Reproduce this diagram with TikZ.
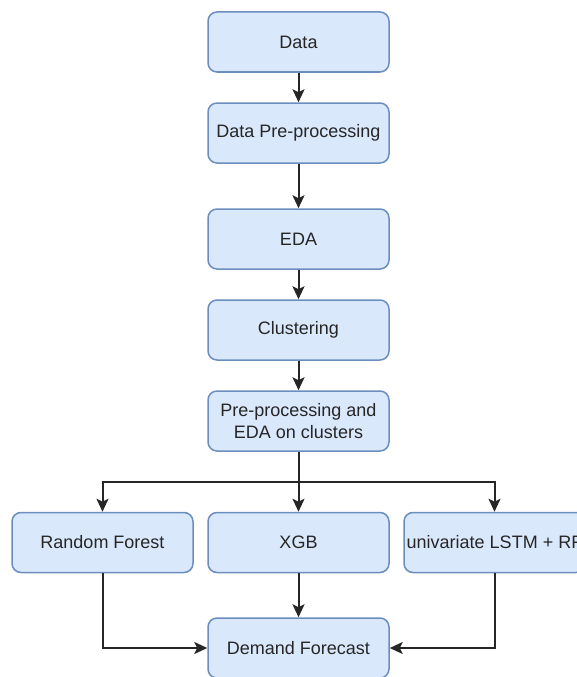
\documentclass[tikz,border=0pt]{standalone}
\usepackage{fontspec}
\setmainfont{Liberation Sans}
\usetikzlibrary{arrows.meta}
\definecolor{boxfill}{HTML}{DAE8FC}
\definecolor{boxline}{HTML}{6C8EBF}
\tikzset{
	stage/.style={draw=boxline, fill=boxfill, line width=1.5pt, rounded corners=9pt,
		minimum width=181pt, minimum height=60pt, inner sep=0pt, align=center,
		text=black!85, font=\fontsize{18}{22.5}\selectfont},
	flow/.style={draw=black!85, line width=2pt, -{Stealth[length=13pt,width=12pt,inset=3pt]}}
}

\begin{document}
\begin{tikzpicture}[x=1pt, y=-1pt]
		%%%%% START %%%%%
		\useasboundingbox (0,0) rectangle (577,677);
		\clip (0,0) rectangle (577,677);
		
		\node[stage] (data) at (298.5, 42) {Data};
		\node[stage] (prep) at (298.5, 133) {Data Pre-processing};
		\node[stage] (eda) at (298.5, 239) {EDA};
		\node[stage] (clus) at (298.5, 330) {Clustering};
		\node[stage] (clusprep) at (298.5, 421) {Pre-processing and\\EDA on clusters};
		
		\node[stage] (rf) at (102.5, 542.5) {Random Forest};
		\node[stage] (xgb) at (298.5, 542.5) {XGB};
		\node[stage] (lstm) at (494.5, 542.5) {univariate LSTM + RF};
		
		\node[stage] (demand) at (298.5, 648) {Demand Forecast};
		
		\draw[flow] (data) -- (prep);
		\draw[flow] (prep) -- (eda);
		\draw[flow] (eda) -- (clus);
		\draw[flow] (clus) -- (clusprep);
		
		\coordinate (split) at (298.5, 482);
		\draw[draw=black!85, line width=2pt] (clusprep) -- (split);
		\draw[flow] (split) -| (rf);
		\draw[flow] (split) -- (xgb);
		\draw[flow] (split) -| (lstm);
		
		\draw[flow] (rf) |- (demand);
		\draw[flow] (xgb) -- (demand);
		\draw[flow] (lstm) |- (demand);
		%%%%% END %%%%%
	\end{tikzpicture}
\end{document}
